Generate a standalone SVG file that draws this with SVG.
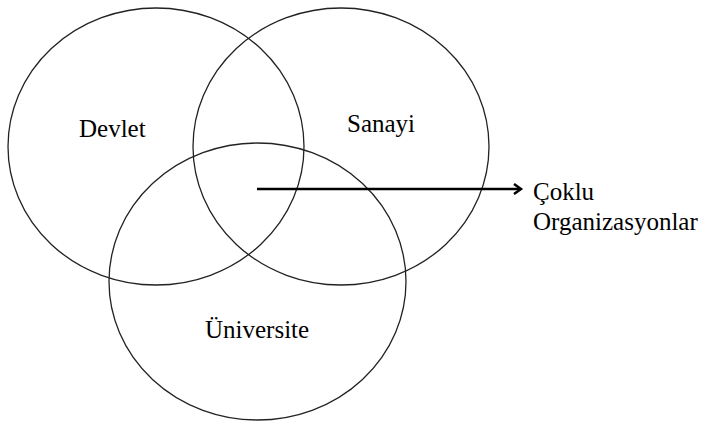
<svg xmlns="http://www.w3.org/2000/svg" width="705" height="424" viewBox="0 0 705 424">
<defs>
<style>
.c{fill:none;stroke:#222;stroke-width:1.3}
.t{font-family:'Liberation Serif','Times New Roman','DejaVu Serif',serif;font-size:25px;fill:#000}
.a{fill:none;stroke:#000;stroke-width:2.5}
</style>
<marker id="arr" markerWidth="12" markerHeight="12" refX="9" refY="6" orient="auto" markerUnits="userSpaceOnUse">
<path d="M2,1 L9,6 L2,11" fill="none" stroke="#000" stroke-width="2.5"/>
</marker>
</defs>
<rect width="705" height="424" fill="#fff"/>
<g id="devlet">
<ellipse class="c" cx="156" cy="146.5" rx="148" ry="138.5"/>
<text class="t" x="79" y="137">Devlet</text>
</g>
<g id="sanayi">
<ellipse class="c" cx="341" cy="146.5" rx="148" ry="138.5"/>
<text class="t" x="347" y="132">Sanayi</text>
</g>
<g id="universite">
<ellipse class="c" cx="257.5" cy="281.5" rx="148.5" ry="138.5"/>
<text class="t" x="205" y="338">Üniversite</text>
</g>
<g id="connectors">
<line class="a" x1="257" y1="189" x2="521" y2="189" marker-end="url(#arr)"/>
</g>
<g id="coklu">
<text class="t" x="533" y="200">Çoklu</text>
<text class="t" x="533" y="230">Organizasyonlar</text>
</g>
</svg>
